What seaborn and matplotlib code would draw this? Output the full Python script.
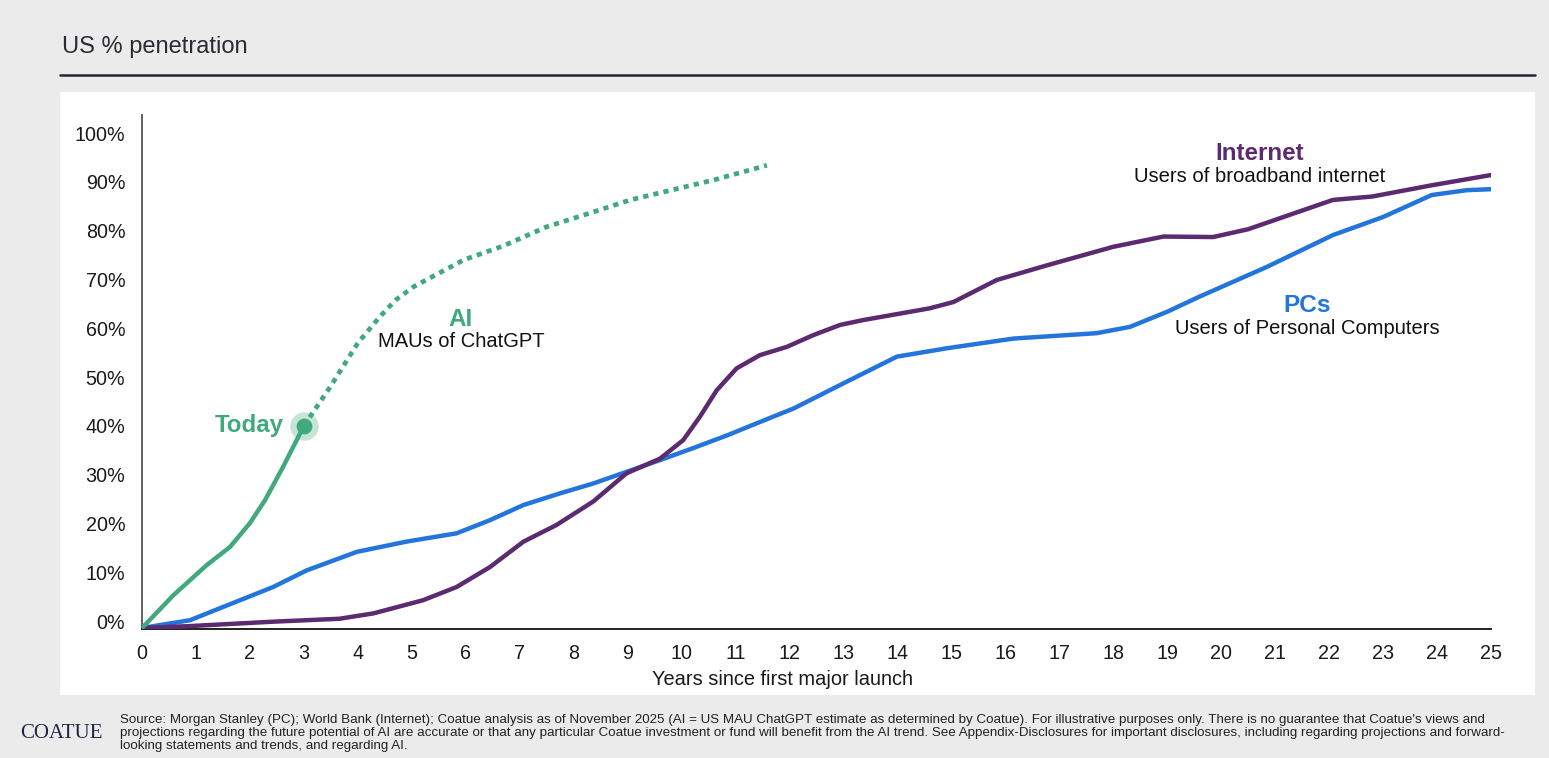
import matplotlib
matplotlib.use("Agg")
import matplotlib.pyplot as plt
import seaborn as sns
import pandas as pd
from matplotlib.patches import Rectangle
from matplotlib.ticker import FuncFormatter

# === Data ===
ai_years = [0, 0.58, 1.2, 1.63, 2.0, 2.28, 2.6, 3]
ai_pct = [-1.4, 5.3, 11.5, 15.2, 20.1, 24.8, 31.3, 40.0]

ai_proj_years = [3, 3.5, 4, 4.41, 4.7, 5.03, 5.96, 6.7, 7.5, 8.3, 9.05, 10.6, 11.58]
ai_proj_pct = [40.0, 48.2, 57.0, 62.4, 65.8, 68.5, 74.0, 76.9, 80.8, 83.6, 86.3, 90.4, 93.4]

internet_years = [0, 0.89, 2.43, 3.66, 4.29, 5.21, 5.83, 6.45, 7.07, 7.68, 8.36, 8.98, 9.6,
                  10.03, 10.34, 10.65, 11.02, 11.45, 11.95, 12.44, 12.94, 13.37, 14.6, 15.04,
                  15.84, 16.77, 18.0, 18.93, 19.85, 20.5, 21.1, 22.07, 22.8, 23.9, 25]
internet_pct = [-1.4, -1.0, -0.1, 0.5, 1.6, 4.3, 7.0, 11.1, 16.3, 19.7, 24.5, 30.3, 33.3,
                37.1, 41.9, 47.3, 51.8, 54.5, 56.2, 58.6, 60.7, 61.7, 64.1, 65.4,
                69.9, 72.9, 76.7, 78.8, 78.7, 80.3, 82.6, 86.3, 87.0, 89.3, 91.4]

pc_years = [0, 0.89, 1.5, 2.43, 3.05, 3.98, 4.9, 5.83, 6.45, 7.07, 7.75, 8.36, 8.98, 9.6,
            10.2, 10.85, 11.45, 12.08, 12.94, 13.99, 14.91, 16.15, 17.69, 18.31, 19.0, 19.6,
            20.85, 22.07, 23.0, 23.9, 24.55, 25]
pc_pct = [-1.4, 0.2, 2.9, 7.0, 10.4, 14.2, 16.3, 18.0, 20.7, 23.8, 26.2, 28.2, 30.6, 33.0,
          35.4, 38.1, 40.8, 43.6, 48.4, 54.2, 55.9, 57.9, 59.0, 60.3, 63.4, 66.5,
          72.6, 79.1, 82.8, 87.3, 88.3, 88.5]

x_ticks = list(range(0, 26))
y_ticks = list(range(0, 101, 10))

GREEN = "#42a97d"
PURPLE = "#5b2a6f"
BLUE = "#2475db"
BG = "#ebebeb"

# === Figure ===
sns.set_theme(style="white")
plt.rcParams["font.family"] = ["Liberation Sans", "DejaVu Sans"]

W, H = 1549, 758
fig = plt.figure(figsize=(W / 100, H / 100), dpi=100, facecolor=BG)

# white chart panel (behind the axes)
fig.patches.append(Rectangle((60 / W, 1 - 695 / H), (1535 - 60) / W, (695 - 92) / H,
                             transform=fig.transFigure, facecolor="white", edgecolor="none", zorder=-5))

ax = fig.add_axes([142 / W, 1 - 629 / H, (1491 - 142) / W, (629 - 115) / H])
ax.set_facecolor("none")
ax.set_zorder(2)

df_pc = pd.DataFrame({"year": pc_years, "pct": pc_pct})
df_net = pd.DataFrame({"year": internet_years, "pct": internet_pct})
df_ai = pd.DataFrame({"year": ai_years, "pct": ai_pct})
df_proj = pd.DataFrame({"year": ai_proj_years, "pct": ai_proj_pct})

sns.lineplot(data=df_pc, x="year", y="pct", ax=ax, color=BLUE, lw=3.2,
             solid_capstyle="round", solid_joinstyle="round", zorder=3)
sns.lineplot(data=df_net, x="year", y="pct", ax=ax, color=PURPLE, lw=3.2,
             solid_capstyle="round", solid_joinstyle="round", zorder=4)
sns.lineplot(data=df_proj, x="year", y="pct", ax=ax, color=GREEN, lw=3.4,
             linestyle=(0, (1.1, 1.1)), dash_capstyle="butt", zorder=5)
sns.lineplot(data=df_ai, x="year", y="pct", ax=ax, color=GREEN, lw=3.2,
             solid_capstyle="round", solid_joinstyle="round", zorder=6)

# "Today" marker
ax.scatter([ai_years[-1]], [ai_pct[-1]], s=420, color=GREEN, alpha=0.3, linewidths=0, zorder=7)
ax.scatter([ai_years[-1]], [ai_pct[-1]], s=130, color=GREEN, linewidths=0, zorder=8)

ax.set_xlim(0, 25)
ax.set_ylim(-1.6, 103.7)
ax.set_xticks(x_ticks)
ax.set_yticks(y_ticks)
ax.yaxis.set_major_formatter(FuncFormatter(lambda v, _: f"{int(v)}%"))
ax.tick_params(axis="both", length=0, labelsize=14.2, colors="#1a1a1a")
ax.tick_params(axis="y", pad=12)
ax.tick_params(axis="x", pad=11)
ax.set_xlabel("Years since first major launch", fontsize=14.4, color="#1a1a1a", labelpad=5, x=0.475)
ax.set_ylabel("")

for side in ["top", "right"]:
    ax.spines[side].set_visible(False)
ax.spines["left"].set_color("#555555")
ax.spines["left"].set_linewidth(1.3)
ax.spines["bottom"].set_color("#111111")
ax.spines["bottom"].set_linewidth(1.3)

# === Annotations ===
ax.text(2.63, 40, "Today", color=GREEN, fontsize=17.3, fontweight="bold", ha="right", va="center")
ax.text(5.91, 61.8, "AI", color=GREEN, fontsize=17.5, fontweight="bold", ha="center", va="center")
ax.text(5.91, 57.2, "MAUs of ChatGPT", color="#111111", fontsize=14.5, ha="center", va="center")
ax.text(20.72, 95.8, "Internet", color=PURPLE, fontsize=17.4, fontweight="bold", ha="center", va="center")
ax.text(20.72, 91.1, "Users of broadband internet", color="#111111", fontsize=14.6, ha="center", va="center")
ax.text(21.6, 64.6, "PCs", color=BLUE, fontsize=17.6, fontweight="bold", ha="center", va="center")
ax.text(21.6, 59.9, "Users of Personal Computers", color="#111111", fontsize=14.5, ha="center", va="center")

# === Title, rule and footer ===
fig.text(62 / W, 1 - 47 / H, "US % penetration", fontsize=17, color="#2b2b33", ha="left", va="center")
fig.add_artist(plt.Line2D([60 / W, 1535 / W], [1 - 75 / H, 1 - 75 / H], color="#23263a", lw=1.8))

fig.text(20 / W, 1 - 734 / H, "COATUE", fontsize=15, color="#1f2540", ha="left", va="center",
         family=["Liberation Serif", "DejaVu Serif"])
footer = ("Source: Morgan Stanley (PC); World Bank (Internet); Coatue analysis as of November 2025 (AI = US MAU ChatGPT "
          "estimate as determined by Coatue). For illustrative purposes only. There is no guarantee that Coatue's views and\n"
          "projections regarding the future potential of AI are accurate or that any particular Coatue investment or fund "
          "will benefit from the AI trend. See Appendix-Disclosures for important disclosures, including regarding projections and forward-\n"
          "looking statements and trends, and regarding AI.")
fig.text(120 / W, 1 - 733 / H, footer, fontsize=9.6, color="#222222", ha="left", va="center",
         linespacing=1.08)

plt.savefig("out.png", dpi=100, facecolor=BG)
plt.close()
